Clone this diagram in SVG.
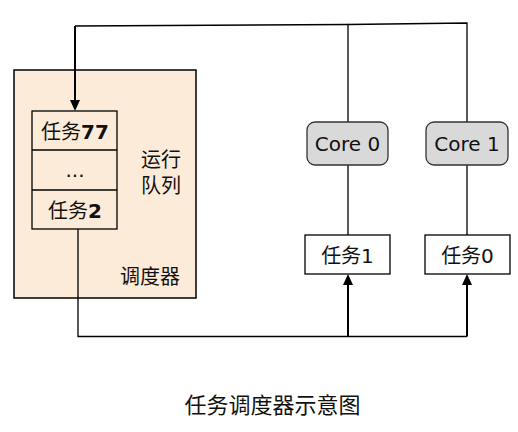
<svg xmlns="http://www.w3.org/2000/svg" width="518" height="432" viewBox="0 0 518 432">
<style>
.t{font-family:"DejaVu Sans","Noto Sans CJK SC",sans-serif;font-size:20px;fill:#111;text-anchor:middle}
.b{font-weight:bold}
.box{fill:#fff;stroke:#000;stroke-width:1.3}
.core{fill:#d9d9d9;stroke:#333;stroke-width:1.3}
.ln{fill:none;stroke:#000;stroke-width:1.3}
.sh{fill:none;stroke:#000;stroke-width:2}
.hd{fill:#000}
</style>
<g id="scheduler">
<rect x="14" y="70" width="182" height="228" fill="#fdebd9" stroke="#000" stroke-width="1.5"/>
<text class="t" x="161" y="167">运行</text>
<text class="t" x="161" y="193">队列</text>
<text class="t" x="150" y="284">调度器</text>
</g>
<g id="queue">
<rect x="32" y="111" width="85" height="118" fill="none" stroke="#000" stroke-width="1.3"/>
<line class="ln" x1="32" y1="150" x2="117" y2="150"/>
<line class="ln" x1="32" y1="190" x2="117" y2="190"/>
<text class="t" x="75" y="139">任务<tspan class="b">77</tspan></text>
<text class="t" x="75" y="177">...</text>
<text class="t" x="75" y="218">任务<tspan class="b">2</tspan></text>
</g>
<g id="connectors">
<polyline class="ln" points="348,122 348,24.5 467,23 467,122"/>
<polyline class="ln" points="348,24.5 75,26"/>
<path class="sh" d="M75,26 L75,100"/>
<path class="hd" d="M70,100 L80,100 L75,111 Z"/>
<line class="ln" x1="348" y1="165" x2="348" y2="235"/>
<line class="ln" x1="467" y1="165" x2="467" y2="235"/>
<polyline class="ln" points="78,229 78,336.5 467,336.5"/>
<path class="sh" d="M348,336.5 L348,285"/>
<path class="hd" d="M343,285 L353,285 L348,274 Z"/>
<path class="sh" d="M467,336.5 L467,285"/>
<path class="hd" d="M462,285 L472,285 L467,274 Z"/>
</g>
<g id="core0">
<rect class="core" x="307" y="122" width="81" height="43" rx="8"/>
<text class="t" x="347.5" y="151">Core 0</text>
</g>
<g id="core1">
<rect class="core" x="426" y="122" width="82" height="43" rx="8"/>
<text class="t" x="467" y="151">Core 1</text>
</g>
<g id="task1">
<rect class="box" x="305" y="235" width="85" height="39"/>
<text class="t" x="347.5" y="263">任务1</text>
</g>
<g id="task0">
<rect class="box" x="425" y="235" width="85" height="39"/>
<text class="t" x="467.5" y="263">任务0</text>
</g>
<text x="272.5" y="413" style="font-family:'Noto Sans CJK SC',sans-serif;font-size:22px;fill:#111;text-anchor:middle">任务调度器示意图</text>
</svg>
